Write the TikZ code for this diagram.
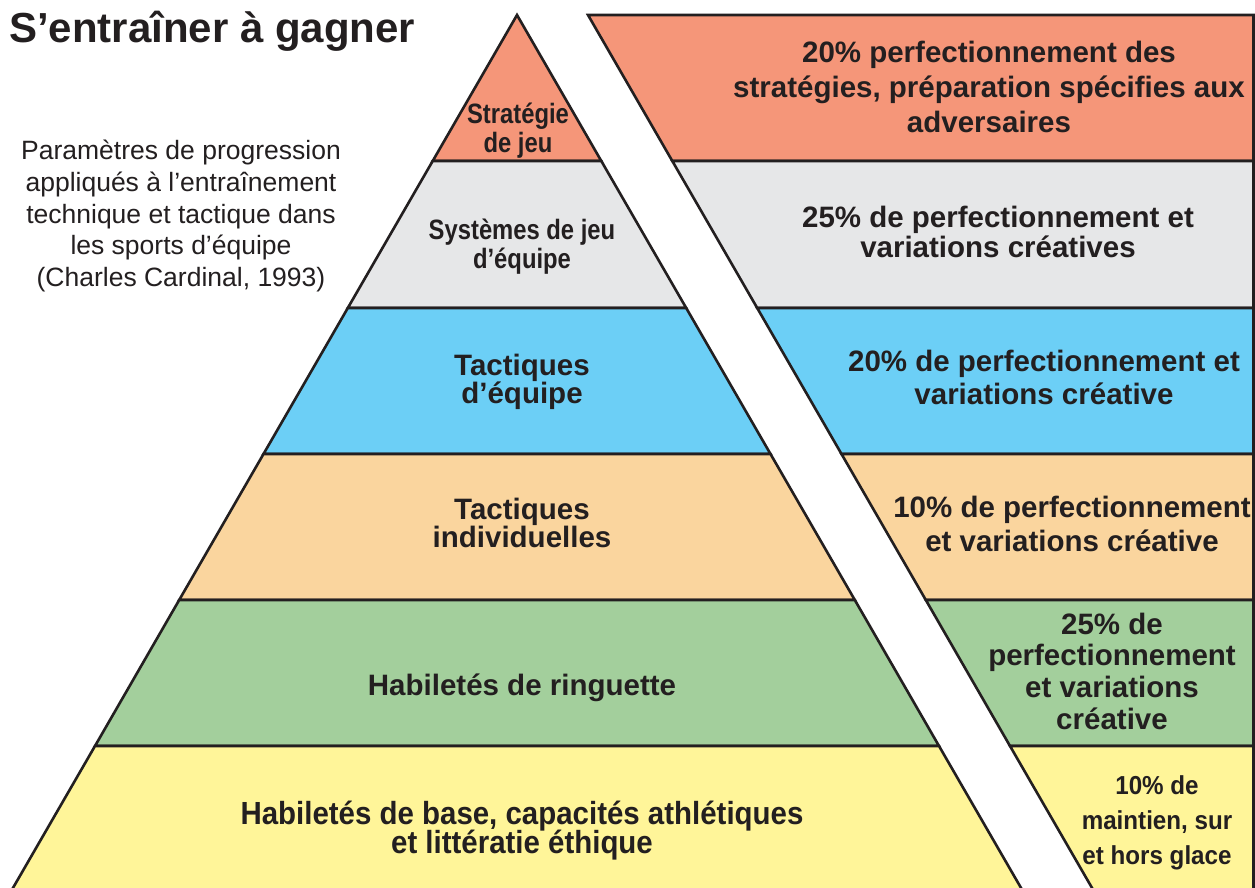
\documentclass[tikz,border=0pt]{standalone}
\usepackage{fontspec}
\setmainfont{Liberation Sans}
\newfontfamily\condbold[FakeStretch=0.85]{Liberation Sans Bold}
\newfontfamily\narrowbold[FakeStretch=0.93]{Liberation Sans Bold}
\newfontfamily\basebold[FakeStretch=0.92]{Liberation Sans Bold}
\newcommand{\tightlines}{\lineskiplimit=-100pt\lineskip=0pt}
\definecolor{ink}{HTML}{231F20}
\definecolor{csalmon}{HTML}{F59679}
\definecolor{cgray}{HTML}{E6E7E8}
\definecolor{cblue}{HTML}{6CCFF6}
\definecolor{cpeach}{HTML}{FAD59E}
\definecolor{cgreen}{HTML}{A3CF9C}
\definecolor{cyellow}{HTML}{FFF599}
\tikzset{
  layer/.style={draw=ink, line width=2.6pt, line join=miter},
  lbl/.style={text=ink, align=center, inner sep=0pt, font=\bfseries\fontsize{29.5}{28}\selectfont\tightlines},
  clbl/.style={text=ink, align=center, inner sep=0pt},
  rlbl/.style={text=ink, align=center, inner sep=0pt},
}
\begin{document}
\begin{tikzpicture}[x=1pt,y=-1pt]
\useasboundingbox (0,0) rectangle (1255,888);
\clip (0,0) rectangle (1255,888);
% pyramid layers
\fill[white] (0,0) rectangle (1255,888);
\draw[layer, fill=csalmon] (517,15) -- (601.3,161) -- (432.7,161) -- cycle;
\draw[layer, fill=cgray] (432.7,161) -- (601.3,161) -- (686.2,308) -- (347.8,308) -- cycle;
\draw[layer, fill=cblue] (347.8,308) -- (686.2,308) -- (770.5,454) -- (263.5,454) -- cycle;
\draw[layer, fill=cpeach] (263.5,454) -- (770.5,454) -- (854.8,600) -- (179.2,600) -- cycle;
\draw[layer, fill=cgreen] (179.2,600) -- (854.8,600) -- (939.0,746) -- (95.0,746) -- cycle;
\draw[layer, fill=cyellow] (95.0,746) -- (939.0,746) -- (1025.1,895) -- (8.9,895) -- cycle;
% right band boxes
\draw[layer, fill=csalmon] (588,15) -- (1253.5,15) -- (1253.5,161) -- (672.3,161) -- cycle;
\draw[layer, fill=cgray] (672.3,161) -- (1253.5,161) -- (1253.5,308) -- (757.2,308) -- cycle;
\draw[layer, fill=cblue] (757.2,308) -- (1253.5,308) -- (1253.5,454) -- (841.5,454) -- cycle;
\draw[layer, fill=cpeach] (841.5,454) -- (1253.5,454) -- (1253.5,600) -- (925.8,600) -- cycle;
\draw[layer, fill=cgreen] (925.8,600) -- (1253.5,600) -- (1253.5,746) -- (1010.0,746) -- cycle;
\draw[layer, fill=cyellow] (1010.0,746) -- (1253.5,746) -- (1253.5,895) -- (1096.1,895) -- cycle;
% title and subtitle
\node[anchor=base west, inner sep=0pt, text=ink, font=\bfseries\fontsize{42}{48}\selectfont] (title) at (9,43) {S’entraîner à gagner};
\node[clbl, font=\fontsize{26.5}{31.75}\selectfont\tightlines] (sub) at (181,216) {Paramètres de progression\\appliqués à l’entraînement\\technique et tactique dans\\les sports d’équipe\\(Charles Cardinal, 1993)};
% pyramid labels
\node[clbl, font=\condbold\fontsize{28}{29}\selectfont\tightlines] (strat) at (518,131) {Stratégie\\de jeu};
\node[clbl, font=\condbold\fontsize{28}{29}\selectfont\tightlines] (syst) at (522,247) {Systèmes de jeu\\d’équipe};
\node[lbl] (tequipe) at (522,382) {Tactiques\\d’équipe};
\node[lbl] (tindiv) at (522,523) {Tactiques\\individuelles};
\node[lbl] (ring) at (522,688) {Habiletés de ringuette};
\node[clbl, font=\basebold\fontsize{32}{29}\selectfont\tightlines] (base) at (522,831) {Habiletés de base, capacités athlétiques\\et littératie éthique};
% right labels
\node[rlbl, font=\bfseries\fontsize{29.5}{35}\selectfont\tightlines] (r1) at (989,87) {20\% perfectionnement des\\stratégies, préparation spécifies aux\\adversaires};
\node[rlbl, font=\bfseries\fontsize{29.5}{30}\selectfont\tightlines] (r2) at (998,232) {25\% de perfectionnement et\\variations créatives};
\node[rlbl, font=\bfseries\fontsize{29.5}{33}\selectfont\tightlines] (r3) at (1044,377) {20\% de perfectionnement et\\variations créative};
\node[rlbl, font=\bfseries\fontsize{29.5}{34}\selectfont\tightlines] (r4) at (1072,524) {10\% de perfectionnement\\et variations créative};
\node[rlbl, font=\bfseries\fontsize{29.5}{31.7}\selectfont\tightlines] (r5) at (1112,671) {25\% de\\perfectionnement\\et variations\\créative};
\node[rlbl, font=\narrowbold\fontsize{26}{35}\selectfont\tightlines] (r6) at (1157,823) {10\% de\\maintien, sur\\et hors glace};
\end{tikzpicture}
\end{document}
